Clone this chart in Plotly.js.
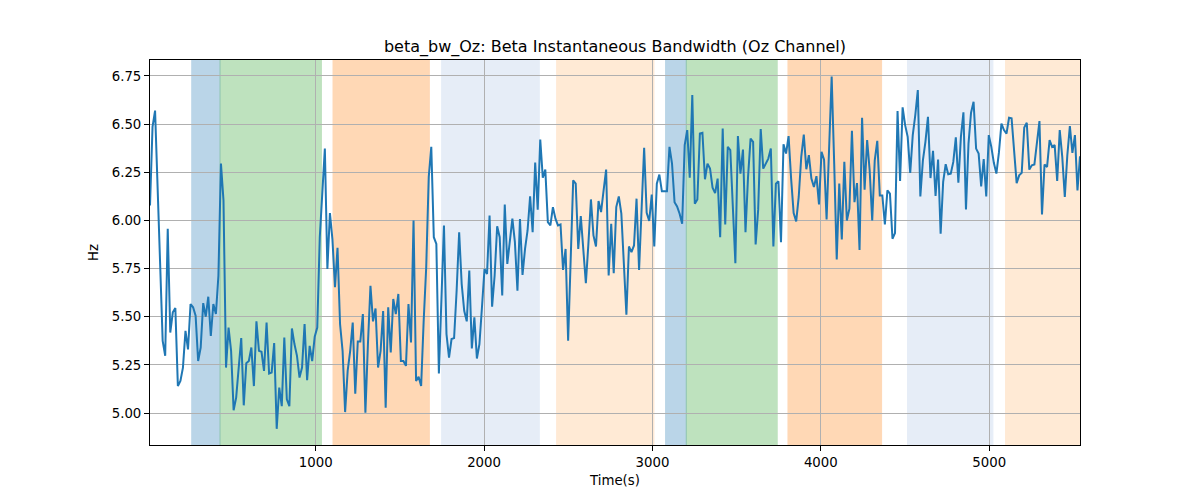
<!DOCTYPE html>
<html>
<head>
<meta charset="utf-8">
<script src="https://cdn.plot.ly/plotly-3.0.1.min.js"></script>
<style>html,body{margin:0;padding:0;background:#fff;}#chart{width:1200px;height:500px;}</style>
</head>
<body>
<div id="chart"></div>
<script>
// ---- data ----
const tStart = 16;
const tStep = 15.05;
const bwSeg1 = [6.078, 6.486, 6.57, 6.2, 5.75, 5.375, 5.297, 5.957, 5.418, 5.523, 5.545, 5.14, 5.167, 5.236, 5.427, 5.33, 5.566, 5.549, 5.505, 5.27, 5.34, 5.571, 5.5, 5.604, 5.40, 5.566, 5.514, 5.714, 6.295, 6.104, 5.236, 5.444, 5.323, 5.014, 5.08, 5.236, 5.389, 5.04, 5.259, 5.27, 5.34, 5.14, 5.476, 5.323, 5.318, 5.219, 5.47, 5.205, 5.21, 5.363, 4.918, 5.132, 5.036, 5.392, 5.071, 5.036, 5.439, 5.358, 5.297, 5.184, 5.236, 5.462, 5.17, 5.349, 5.27, 5.396, 5.444, 5.913, 6.156, 6.373, 5.748, 6.038, 5.9, 5.653, 5.858, 5.462, 5.323, 5.005, 5.219, 5.323, 5.47, 5.10, 5.372, 5.372, 5.514, 5.002, 5.358, 5.661, 5.476, 5.543];
const bwSeg2 = [5.236, 5.323, 5.53, 5.028, 5.549, 5.314, 5.592, 5.514, 5.618, 5.27, 5.27, 5.245, 5.566, 5.366, 6.0, 5.167, 5.188, 5.14, 5.479, 5.757, 6.226, 6.382, 5.913, 5.878, 5.205, 5.566, 5.974, 5.41, 5.288, 5.384, 5.389, 5.635, 5.939, 5.67, 5.531, 5.476, 5.74, 5.335, 5.497, 5.283, 5.358, 5.549, 5.748, 5.722, 6.026, 5.552, 5.714, 5.97, 5.913, 5.61, 6.083, 5.774, 5.896, 6.009, 5.887, 5.635, 6.007, 5.717, 5.852, 5.948, 6.125, 5.939, 6.3, 6.056, 6.42, 6.222, 6.264, 5.991, 5.974, 6.069, 6.009, 5.974, 5.979, 5.743, 5.852, 5.375, 5.792, 6.208, 6.191, 5.852, 6.023, 5.861, 5.674, 5.878, 6.109, 5.922, 5.865, 6.101, 6.043, 6.156, 6.264, 5.714];
const bwSeg3 = [5.983, 5.726, 6.069, 6.125, 6.035, 5.774, 5.51, 5.865, 5.835, 5.87, 6.113, 5.743, 6.069, 6.377, 6.04, 5.997, 6.134, 5.865, 6.191, 6.238, 6.151, 6.151, 6.151, 6.382, 6.295, 6.095, 6.073, 6.035, 5.983, 6.391, 6.469, 6.222, 6.651, 6.087, 6.109, 6.451, 6.455, 6.214, 6.295, 6.269, 6.17, 6.142, 6.217, 5.913, 6.477, 5.979, 6.382, 6.365, 6.069, 5.778, 6.438, 6.243, 6.368, 5.939, 6.226, 6.425, 6.408, 5.875, 6.056, 6.474, 6.269, 6.295, 6.321, 6.373, 5.865, 6.191, 6.203, 5.887, 6.396, 6.347, 6.438, 6.217, 6.038, 5.995, 6.122, 6.33, 6.446, 6.266, 6.339, 6.217, 6.174, 6.23, 6.083, 6.356, 6.316, 6.005, 6.365, 6.747, 6.295, 5.797, 6.191];
const bwSeg4 = [5.901, 6.304, 6.0, 6.061, 6.465, 6.095, 6.194, 5.847, 6.533, 6.16, 6.417, 6.26, 6.0, 6.312, 6.413, 6.13, 6.13, 5.979, 6.156, 6.139, 5.905, 5.934, 6.568, 6.205, 6.587, 6.495, 6.434, 6.247, 6.443, 6.547, 6.677, 6.125, 6.312, 6.408, 6.538, 6.22, 6.361, 6.127, 6.316, 5.931, 6.2, 6.292, 6.24, 6.243, 6.304, 6.431, 6.196, 6.434, 6.561, 6.057, 6.399, 6.559, 6.616, 6.373, 6.347, 6.177, 6.318, 6.125, 6.443, 6.382, 6.299, 6.243, 6.352, 6.503, 6.469, 6.451, 6.533, 6.53, 6.347, 6.194, 6.234, 6.247, 6.483, 6.507, 6.264, 6.286, 6.29, 6.4, 6.516, 6.031, 6.29, 6.278, 6.417, 6.382, 6.391, 6.205, 6.469, 6.33, 6.122, 6.339, 6.49, 6.351, 6.443, 6.156, 6.333];

// shaded intervals (start, end, colour)
const spanStarts = [264, 432, 1103, 1748, 2431, 3078, 3201, 3805, 4515, 5097];
const spanEnds   = [432, 1034, 1675, 2328, 3009, 3201, 3741, 4361, 5022, 5560];
const spanColors = ['#1f77b4', '#2ca02c', '#ff7f0e', '#aec7e8', '#ffbb78', '#1f77b4', '#2ca02c', '#ff7f0e', '#aec7e8', '#ffbb78'];

const xTicks = [1000, 2000, 3000, 4000, 5000];
const yTicks = [5.00, 5.25, 5.50, 5.75, 6.00, 6.25, 6.50, 6.75];
const yTickText = ['5.00', '5.25', '5.50', '5.75', '6.00', '6.25', '6.50', '6.75'];

const bandwidth = bwSeg1.concat(bwSeg2, bwSeg3, bwSeg4);
const times = bandwidth.map((_, i) => tStart + i * tStep);
const xMax = times[times.length - 1];

const shapes = spanStarts.map((s, i) => ({
  type: 'rect', xref: 'x', yref: 'paper', x0: s, x1: Math.min(spanEnds[i], xMax + 50), y0: 0, y1: 1,
  fillcolor: spanColors[i], opacity: 0.3, line: {color: spanColors[i], width: 1}, layer: 'below'
}));

const font = {family: 'DejaVu Sans, sans-serif', size: 13.3, color: '#000'};

Plotly.newPlot('chart', [{
  x: times, y: bandwidth, type: 'scatter', mode: 'lines',
  line: {color: '#1f77b4', width: 2}, hoverinfo: 'x+y'
}], {
  width: 1200, height: 500,
  margin: {l: 150, r: 120, t: 60, b: 55},
  paper_bgcolor: '#fff', plot_bgcolor: '#fff',
  font: font,
  showlegend: false,
  title: {text: 'beta_bw_Oz: Beta Instantaneous Bandwidth (Oz Channel)', font: {family: 'DejaVu Sans, sans-serif', size: 16, color: '#000'},
          x: 0.5, xref: 'paper', xanchor: 'center', y: 0.908, yref: 'container', yanchor: 'middle'},
  xaxis: {range: [tStart, xMax], tickvals: xTicks, ticktext: xTicks.map(String), ticks: 'outside', ticklen: 5, tickcolor: '#000',
          showgrid: true, gridcolor: '#b0b0b0', gridwidth: 1, zeroline: false, showline: true, linecolor: '#000', linewidth: 1, mirror: true,
          title: {text: 'Time(s)', font: font, standoff: 6}, tickfont: font},
  yaxis: {range: [4.834, 6.833], tickvals: yTicks, ticktext: yTickText, ticks: 'outside', ticklen: 5, tickcolor: '#000',
          showgrid: true, gridcolor: '#b0b0b0', gridwidth: 1, zeroline: false, showline: true, linecolor: '#000', linewidth: 1, mirror: true,
          title: {text: 'Hz', font: font, standoff: 10}, tickfont: font},
  shapes: shapes
}, {displayModeBar: false, staticPlot: true});
</script>
</body>
</html>
